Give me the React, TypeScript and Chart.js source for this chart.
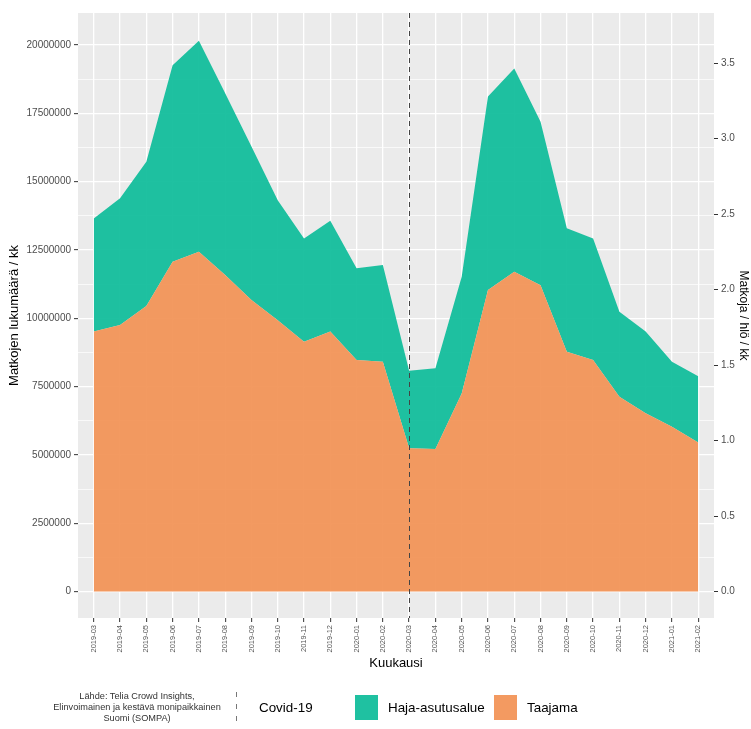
import React, { useEffect, useRef } from "react";
import { Chart, registerables } from "chart.js";

Chart.register(...registerables);

// ---- Data ----
const months = [
  "2019-03", "2019-04", "2019-05", "2019-06", "2019-07", "2019-08",
  "2019-09", "2019-10", "2019-11", "2019-12", "2020-01", "2020-02",
  "2020-03", "2020-04", "2020-05", "2020-06", "2020-07", "2020-08",
  "2020-09", "2020-10", "2020-11", "2020-12", "2021-01", "2021-02",
];

const taajama = [
  9510000, 9750000, 10450000, 12070000, 12430000, 11580000,
  10670000, 9930000, 9140000, 9510000, 8470000, 8410000,
  5240000, 5210000, 7250000, 11030000, 11700000, 11210000,
  8770000, 8470000, 7130000, 6520000, 6030000, 5450000,
];

const hajaAsutusalue = [
  4140000, 4640000, 5280000, 7190000, 7720000, 6650000,
  5610000, 4390000, 3780000, 4060000, 3360000, 3540000,
  2840000, 2960000, 4270000, 7080000, 7440000, 5980000,
  4520000, 4450000, 3110000, 2990000, 2380000, 2430000,
];

const leftTickValues = [0, 2500000, 5000000, 7500000, 10000000, 12500000, 15000000, 17500000, 20000000];
const rightTickValues = [0, 0.5, 1.0, 1.5, 2.0, 2.5, 3.0, 3.5];
const POPULATION = 5525000; // trips per person conversion for the secondary axis
const covidMonth = "2020-03";

const LEFT_MIN = -970000;
const LEFT_MAX = 21170000;

const FONT = "'Liberation Sans', Arial, Helvetica, sans-serif";

export default function App() {
  const ref = useRef<HTMLCanvasElement>(null);

  useEffect(() => {
    document.body.style.margin = "0";
    const canvas = ref.current;
    if (!canvas) return;

    const step = leftTickValues[1] - leftTickValues[0];
    const allLeftTicks: number[] = [];
    leftTickValues.forEach((v, i) => {
      allLeftTicks.push(v);
      if (i < leftTickValues.length - 1) allLeftTicks.push(v + step / 2);
    });
    const isMajor = (v: number) => leftTickValues.includes(v);

    const bgPlugin = {
      id: "panelBg",
      beforeDraw(chart: any) {
        const { ctx, chartArea: a } = chart;
        ctx.save();
        ctx.fillStyle = "#EBEBEB";
        ctx.fillRect(a.left, a.top, a.right - a.left, a.bottom - a.top);
        ctx.restore();
      },
    };

    const covidPlugin = {
      id: "covidLine",
      afterDatasetsDraw(chart: any) {
        const { ctx, chartArea: a, scales } = chart;
        const x = Math.round(scales.x.getPixelForValue(months.indexOf(covidMonth))) + 0.5;
        ctx.save();
        ctx.strokeStyle = "#444444";
        ctx.lineWidth = 1;
        ctx.setLineDash([5, 4]);
        ctx.beginPath();
        ctx.moveTo(x, a.top);
        ctx.lineTo(x, a.bottom);
        ctx.stroke();
        ctx.restore();
      },
    };

    const chart = new Chart(canvas, {
      type: "line",
      data: {
        datasets: [
          {
            label: "Taajama",
            data: taajama.map((v, i) => ({ x: i, y: v })),
            fill: "origin",
            backgroundColor: "rgba(242,146,85,0.93)",
            borderWidth: 0,
            pointRadius: 0,
            tension: 0,
            yAxisID: "y",
          },
          {
            label: "Haja-asutusalue",
            data: hajaAsutusalue.map((v, i) => ({ x: i, y: v })),
            fill: "-1",
            backgroundColor: "rgba(14,188,154,0.93)",
            borderWidth: 0,
            pointRadius: 0,
            tension: 0,
            yAxisID: "y",
          },
        ],
      },
      options: {
        animation: false,
        responsive: false,
        maintainAspectRatio: false,
        layout: { padding: { top: 13, left: 0, right: 0, bottom: 0 } },
        plugins: {
          legend: { display: false },
          tooltip: { enabled: false },
        },
        scales: {
          x: {
            type: "linear",
            min: -0.6,
            max: months.length - 0.4,
            afterBuildTicks: (s: any) => {
              s.ticks = months.map((_, i) => ({ value: i }));
            },
            afterFit: (s: any) => {
              s.height = 111;
            },
            ticks: {
              autoSkip: false,
              minRotation: 90,
              maxRotation: 90,
              padding: 3,
              color: "#555555",
              font: { size: 7.5, family: FONT },
              callback: (v: any) => months[v] ?? "",
            },
            grid: {
              color: "#FFFFFF",
              lineWidth: 1.3,
              tickColor: "#333333",
              tickLength: 4,
              tickWidth: 1,
            },
            border: { display: false },
            title: {
              display: true,
              text: "Kuukausi",
              color: "#000000",
              font: { size: 13, family: FONT },
              padding: { top: 0, bottom: 58 },
            },
          },
          y: {
            type: "linear",
            position: "left",
            stacked: true,
            min: LEFT_MIN,
            max: LEFT_MAX,
            afterBuildTicks: (s: any) => {
              s.ticks = allLeftTicks.map((v) => ({ value: v }));
            },
            afterFit: (s: any) => {
              s.width = 78;
            },
            ticks: {
              autoSkip: false,
              padding: 3,
              color: "#4D4D4D",
              font: { size: 10, family: FONT },
              callback: (v: any) => (isMajor(v) ? String(v) : ""),
            },
            grid: {
              color: "#FFFFFF",
              lineWidth: (c: any) => (c.tick && isMajor(c.tick.value) ? 1.3 : 0.7),
              tickColor: (c: any) => (c.tick && isMajor(c.tick.value) ? "#333333" : "rgba(0,0,0,0)"),
              tickLength: 4,
              tickWidth: 1,
            },
            border: { display: false },
            title: {
              display: true,
              text: "Matkojen lukumäärä / kk",
              color: "#000000",
              font: { size: 13, family: FONT },
              padding: { top: 7, bottom: 0 },
            },
          },
          y2: {
            type: "linear",
            position: "right",
            min: LEFT_MIN / POPULATION,
            max: LEFT_MAX / POPULATION,
            afterBuildTicks: (s: any) => {
              s.ticks = rightTickValues.map((v) => ({ value: v }));
            },
            afterFit: (s: any) => {
              s.width = 37;
            },
            ticks: {
              autoSkip: false,
              padding: 3,
              color: "#4D4D4D",
              font: { size: 10, family: FONT },
              callback: (v: any) => Number(v).toFixed(1),
            },
            grid: {
              drawOnChartArea: false,
              tickColor: "#333333",
              tickLength: 4,
              tickWidth: 1,
            },
            border: { display: false },
            title: {
              display: true,
              text: "Matkoja / hlö / kk",
              color: "#000000",
              font: { size: 12, family: FONT },
              padding: { top: 0, bottom: 0 },
            },
          },
        },
      } as any,
      plugins: [bgPlugin, covidPlugin],
    });

    return () => chart.destroy();
  }, []);

  const textStyle: React.CSSProperties = {
    position: "absolute",
    fontFamily: FONT,
    fontSize: 13.4,
    color: "#000",
    lineHeight: "16px",
    whiteSpace: "nowrap",
  };

  return (
    <div style={{ position: "fixed", left: 0, top: 0, width: 751, height: 729, background: "#fff", overflow: "hidden" }}>
      <canvas ref={ref} width={751} height={729} style={{ display: "block", width: 751, height: 729 }} />
      <div
        style={{
          position: "absolute",
          left: 37,
          top: 691,
          width: 200,
          textAlign: "center",
          fontFamily: FONT,
          fontSize: 9.2,
          lineHeight: "11px",
          color: "#333",
          whiteSpace: "nowrap",
        }}
      >
        Lähde: Telia Crowd Insights,
        <br />
        Elinvoimainen ja kestävä monipaikkainen
        <br />
        Suomi (SOMPA)
      </div>
      <svg style={{ position: "absolute", left: 235, top: 692 }} width={4} height={32}>
        <line x1={1.5} y1={0} x2={1.5} y2={32} stroke="#777" strokeWidth={1} strokeDasharray="5,7" />
      </svg>
      <div style={{ ...textStyle, left: 259, top: 700 }}>Covid-19</div>
      <div style={{ position: "absolute", left: 355, top: 695, width: 23, height: 25, background: "rgba(14,188,154,0.93)" }} />
      <div style={{ ...textStyle, left: 388, top: 700 }}>Haja-asutusalue</div>
      <div style={{ position: "absolute", left: 494, top: 695, width: 23, height: 25, background: "rgba(242,146,85,0.93)" }} />
      <div style={{ ...textStyle, left: 527, top: 700 }}>Taajama</div>
    </div>
  );
}
